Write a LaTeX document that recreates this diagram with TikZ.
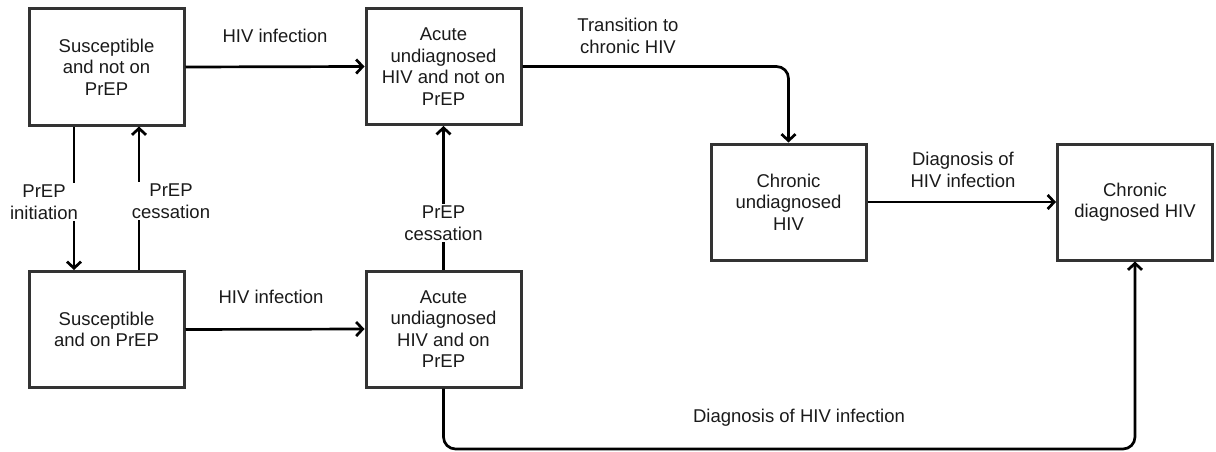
\documentclass[tikz,border=0pt]{standalone}
\usepackage{fontspec}
\setmainfont{Liberation Sans}
\usetikzlibrary{arrows.meta}
\definecolor{boxc}{HTML}{333333}
\definecolor{txt}{HTML}{1A1A1A}
\newcommand\fsz{\fontsize{18.5}{21.5}\selectfont}
\begin{document}
\begin{tikzpicture}[x=1pt,y=-1pt,
  box/.style={draw=boxc, line width=3pt, minimum width=155pt, minimum height=116pt, inner sep=0pt, align=center, font=\fsz, text=txt},
  lbl/.style={align=center, font=\fsz, text=txt, inner sep=1.5pt},
  wlbl/.style={lbl, fill=white},
  arr/.style={line width=2.7pt, draw=black, -{Straight Barb[length=6.5pt,width=14pt]}}]
\useasboundingbox (0,0) rectangle (1216,452);
\node[box] (A) at (106.5,67) {Susceptible\\and not on\\PrEP};
\node[box] (B) at (106.5,329.5) {Susceptible\\and on PrEP};
\node[box] (C) at (443.5,66.5) {Acute\\undiagnosed\\HIV and not on\\PrEP};
\node[box] (D) at (443.5,329) {Acute\\undiagnosed\\HIV and on\\PrEP};
\node[box] (E) at (788.5,202) {Chronic\\undiagnosed\\HIV};
\node[box] (F) at (1135,202) {Chronic\\diagnosed HIV};
\coordinate (bot) at (0,449);
\draw[arr] (A.east) -- (C.west);
\draw[arr] (B.east) -- (D.west);
\draw[arr, rounded corners=12pt] (C.east) -| (E.north);
\draw[arr] (E.east) -- (F.west);
\draw[arr, rounded corners=12pt] (D.south) -- (D.south |- bot) -- (F.south |- bot) -- (F.south);
\draw[arr] ([xshift=-32.5pt]A.south) -- ([xshift=-32.5pt]B.north);
\draw[arr] ([xshift=32.5pt]B.north) -- ([xshift=32.5pt]A.south);
\draw[arr] (D.north) -- (C.south);
\node[lbl] (l1) at (275,36) {HIV infection};
\node[lbl] (l2) at (271,297) {HIV infection};
\node[lbl] (l3) at (628,36) {Transition to\\chronic HIV};
\node[lbl] (l4) at (963,170) {Diagnosis of\\HIV infection};
\node[lbl] (l5) at (799,418) {Diagnosis of HIV infection};
\node[wlbl] (l6) at (44,202) {PrEP\\initiation};
\node[wlbl] (l7) at (171,201) {PrEP\\cessation};
\node[wlbl] (l8) at (443.5,223) {PrEP\\cessation};
\end{tikzpicture}
\end{document}
